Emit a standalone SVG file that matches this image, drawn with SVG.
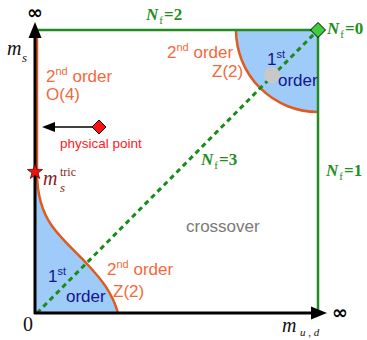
<svg xmlns="http://www.w3.org/2000/svg" width="367" height="340" viewBox="0 0 367 340">
<style>
.ord{font-family:"Liberation Sans",Arial,sans-serif;font-size:17px;fill:#f26a3c}
.first{font-family:"Liberation Sans",Arial,sans-serif;font-size:17px;fill:#15158f}
.nf{font-family:"Liberation Serif","Times New Roman",serif;font-size:17px;font-weight:bold;fill:#1f8f1f}
.mv{font-family:"Liberation Serif","Times New Roman",serif;font-style:italic;fill:#111}
.inf{font-family:"DejaVu Sans",sans-serif;font-size:19px;font-weight:bold;fill:#000}
.blue{fill:#9ecbf7}
.crit{fill:none;stroke:#e05a20;stroke-width:2.5}
.grn{stroke:#218c21;stroke-width:2.5;fill:none}
</style>
<rect width="367" height="340" fill="#fff"/>
<g id="region-top-right">
<path class="blue" d="M236,30 A82,82 0 0 0 318,112 L318,30 Z"/>
<path class="crit" d="M236,30 A82,82 0 0 0 318,112"/>
</g>
<g id="region-bottom-left">
<path class="blue" d="M36,172 C37,195 42,212 52,226 C62,240 76,252 88,265 C101,279 112,292 118,313 L35,313 Z"/>
<path class="crit" d="M37,35 L37,172 C37,195 42,212 52,226 C62,240 76,252 88,265 C101,279 112,292 118,313"/>
</g>
<g id="connectors">
<line class="grn" x1="36" y1="30" x2="318" y2="30"/>
<line class="grn" x1="318" y1="30" x2="318" y2="313"/>
<line x1="37" y1="313" x2="318" y2="30" stroke="#1a8a1a" stroke-width="3" stroke-dasharray="5,4"/>
<line x1="35" y1="314" x2="35" y2="36" stroke="#000" stroke-width="3"/>
<polygon points="35,22 28.5,38 41.5,38" fill="#000"/>
<line x1="34" y1="313" x2="312" y2="313" stroke="#000" stroke-width="3"/>
<polygon points="327,313 311,306.5 311,319.5" fill="#000"/>
<line x1="93" y1="127" x2="54" y2="127" stroke="#000" stroke-width="1.5"/>
<polygon points="42,127 55,122 55,132" fill="#000"/>
</g>
<circle id="spot" cx="272" cy="75" r="8" fill="#c8c8c8"/>
<g id="nf0-point">
<polygon points="318,22.5 325.5,30 318,37.5 310.5,30" fill="#3fcc3f" stroke="#000" stroke-width="1"/>
<text class="nf" x="327" y="34"><tspan font-style="italic">N</tspan><tspan font-size="11" font-weight="normal" dx="1" dy="4">f</tspan><tspan dx="1" dy="-4">=0</tspan></text>
</g>
<g id="physical-point">
<polygon points="99,120 106,127 99,134 92,127" fill="#ff1010" stroke="#000" stroke-width="1"/>
<text x="60" y="148" font-family="'Liberation Sans',Arial,sans-serif" font-size="13.5" fill="#ff1a1a">physical point</text>
</g>
<g id="tricritical">
<polygon points="35,164 36.9,169.3 42.6,169.5 38.1,173 39.7,178.5 35,175.3 30.3,178.5 31.9,173 27.4,169.5 33.1,169.3" fill="#f01010" stroke="#400" stroke-width="0.7"/>
<text class="mv" x="43" y="185" font-size="20" style="fill:#8b1c1c">m</text>
<text x="60" y="176" font-family="'Liberation Serif',serif" font-size="12" fill="#8b1c1c">tric</text>
<text class="mv" x="60" y="192" font-size="13" style="fill:#8b1c1c">s</text>
</g>
<g id="label-O4">
<text class="ord" x="46" y="82">2<tspan font-size="11" dy="-7">nd</tspan><tspan dy="7"> order</tspan></text>
<text class="ord" x="46" y="100">O(4)</text>
</g>
<g id="label-Z2-top">
<text class="ord" x="167" y="58">2<tspan font-size="11" dy="-7">nd</tspan><tspan dy="7"> order</tspan></text>
<text class="ord" x="212" y="77">Z(2)</text>
</g>
<g id="label-first-top">
<text class="first" x="267" y="65">1<tspan font-size="11" dy="-7">st</tspan></text>
<text class="first" x="278" y="86">order</text>
</g>
<g id="label-Z2-bottom">
<text class="ord" x="107" y="275">2<tspan font-size="11" dy="-7">nd</tspan><tspan dy="7"> order</tspan></text>
<text class="ord" x="113" y="297">Z(2)</text>
</g>
<g id="label-first-bottom">
<text class="first" x="48" y="282">1<tspan font-size="11" dy="-7">st</tspan></text>
<text class="first" x="66" y="302">order</text>
</g>
<g id="crossover">
<text x="186" y="232" font-family="'Liberation Sans',Arial,sans-serif" font-size="17" fill="#7a7a7a">crossover</text>
</g>
<g id="nf-labels">
<text class="nf" x="146" y="20"><tspan font-style="italic">N</tspan><tspan font-size="11" font-weight="normal" dx="1" dy="4">f</tspan><tspan dx="1" dy="-4">=2</tspan></text>
<text class="nf" x="201" y="165"><tspan font-style="italic">N</tspan><tspan font-size="11" font-weight="normal" dx="1" dy="4">f</tspan><tspan dx="1" dy="-4">=3</tspan></text>
<text class="nf" x="326" y="176"><tspan font-style="italic">N</tspan><tspan font-size="11" font-weight="normal" dx="1" dy="4">f</tspan><tspan dx="1" dy="-4">=1</tspan></text>
</g>
<g id="axis-labels">
<text class="inf" x="35" y="19" text-anchor="middle">∞</text>
<text class="inf" x="340" y="319" text-anchor="middle">∞</text>
<text class="mv" x="7" y="55" font-size="20">m</text>
<text class="mv" x="22" y="62" font-size="13">s</text>
<text class="mv" x="282" y="332" font-size="20">m</text>
<text class="mv" x="300" y="336" font-size="11">u , d</text>
<text x="23" y="331" font-family="'Liberation Serif',serif" font-size="20" fill="#111">0</text>
</g>
</svg>
